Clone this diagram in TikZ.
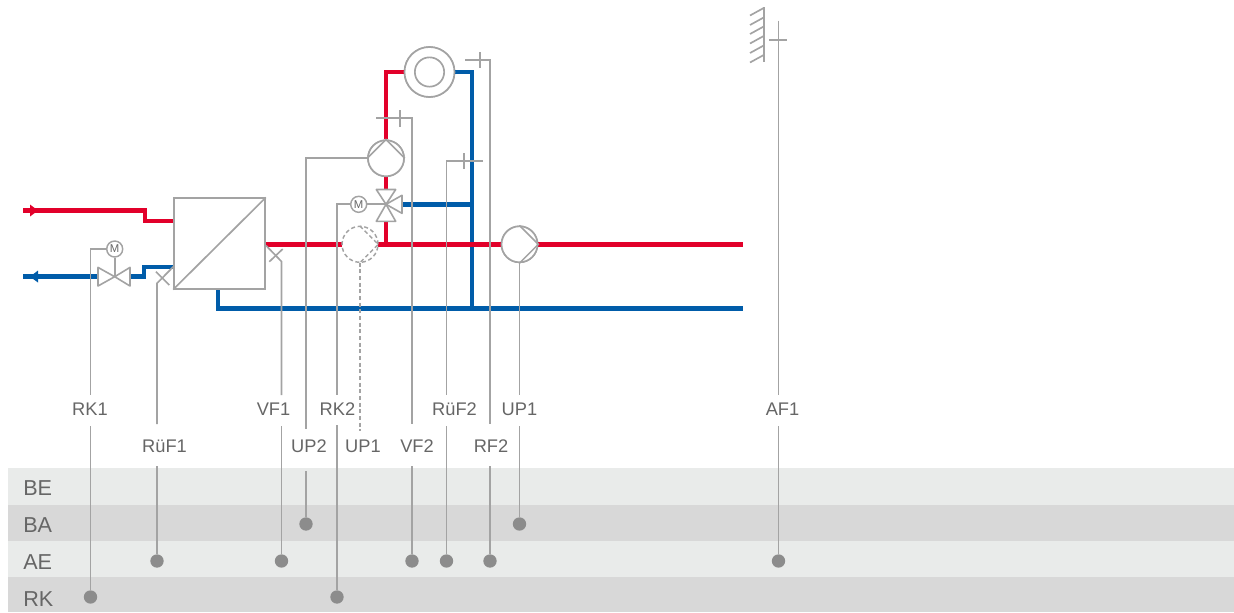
\documentclass[tikz,border=0pt]{standalone}
\usepackage{fontspec}
\usetikzlibrary{calc}
\setmainfont{Liberation Sans}
\definecolor{pipered}{HTML}{E2002A}
\definecolor{pipeblue}{HTML}{005CA9}
\definecolor{wire}{HTML}{A3A3A3}
\definecolor{dotgray}{HTML}{8C8C8C}
\definecolor{txtgray}{HTML}{666666}
\definecolor{bandlight}{HTML}{E9EBEA}
\definecolor{banddark}{HTML}{D8D8D8}
\tikzset{
  hot/.style={draw=pipered,line width=3.4pt,line join=miter},
  cold/.style={draw=pipeblue,line width=3.4pt,line join=miter},
  wireline/.style={draw=wire,line width=1.25pt},
  wirethin/.style={draw=wire,line width=1.1pt},
  wiredash/.style={draw=wire,line width=1.1pt,dash pattern=on 3pt off 2pt},
  part/.style={draw=wire,line width=1.2pt,fill=white,line join=round},
  pumpbody/.style={circle,draw=wire,line width=1.25pt,fill=white,minimum size=27pt,inner sep=0pt},
  motorbody/.style={circle,draw=wire,line width=1.1pt,fill=white,minimum size=12pt,inner sep=0pt,font=\fontsize{8.5}{9}\selectfont,text=txtgray},
  sigdot/.style={circle,fill=dotgray,minimum size=10pt,inner sep=0pt},
  tag/.style={text=txtgray,font=\fontsize{13.7}{14}\selectfont,inner sep=0pt,text height=9.8pt,text depth=0pt},
  bandtag/.style={text=txtgray,font=\fontsize{16.2}{17}\selectfont,inner sep=0pt,anchor=west,text height=11.6pt,text depth=0pt},
  hxbody/.style={draw=wire,line width=1.25pt,fill=white,minimum width=68.25pt,minimum height=67.8pt,inner sep=0pt},
}
\begin{document}
\begin{tikzpicture}[x=0.75pt,y=-0.75pt]
\useasboundingbox (0,0) rectangle (1234,612);
% bands
\fill[bandlight] (8,468) rectangle (1234,505);
\fill[banddark]  (8,505) rectangle (1234,541);
\fill[bandlight] (8,541) rectangle (1234,577);
\fill[banddark]  (8,577) rectangle (1234,612);
\node[bandtag] (bBE) at (23,488) {BE};
\node[bandtag] (bBA) at (23,525) {BA};
\node[bandtag] (bAE) at (23,561.5) {AE};
\node[bandtag] (bRK) at (23,598.5) {RK};

% anchors of the components
\node[pumpbody,minimum size=37.5pt] (coil) at (429.5,72) {};
\node[pumpbody] (pumpB) at (386,158.3) {};
\node[pumpbody] (pumpA) at (519.5,244.3) {};
\node[circle,minimum size=27pt,inner sep=0pt] (pumpC) at (360,244.3) {};
\node[hxbody] (hx) at (219.5,243.5) {};
\node[motorbody] (motB) at (358.7,204.3) {M};
\node[motorbody] (motA) at (114.7,249) {M};
\coordinate (vB) at (386,204.3);
\coordinate (vBtop) at (386,189.5);
\coordinate (vBbot) at (386,221.3);
\coordinate (vBrt) at (402,204.3);
\coordinate (vA) at (114.7,276.7);
\coordinate (vAl) at (98,276.7);
\coordinate (vAr) at (130,276.7);

% coordinates of pipes
\coordinate (rIn) at (23,210.5);
\coordinate (rK1) at (145,210.5);
\coordinate (rK2) at (145,221);
\coordinate (bOut) at (23,276.7);
\coordinate (bK1) at (144,276.7);
\coordinate (bK2) at (144,267);
\coordinate (rUp) at (386,72);
\coordinate (rJ) at (386,244.3);
\coordinate (bTop) at (472,72);
\coordinate (bBot) at (472,308.7);
\coordinate (bL) at (218,308.7);
\coordinate (bEnd) at (743,308.7);
\coordinate (rEnd) at (743,244.3);
\coordinate (bT) at (472,204.3);
\coordinate (hxB) at (218,289);
\coordinate (hxR) at (265,244.3);
\coordinate (hxL1) at (174,221);
\coordinate (hxL2) at (174,267);

% pipes
\draw[cold] (bOut) -- (vAl);
\draw[cold] (vAr) -- (bK1) -- (bK2) -- (hxL2);
\draw[cold] (coil.east) -- (bTop) -- (bBot);
\draw[cold] (vBrt) -- (bT);
\draw[cold] (hxB) -- (bL) -- (bEnd);
\draw[hot] (rIn) -- (rK1) -- (rK2) -- (hxL1);
\draw[hot] (coil.west) -- (rUp) -- (pumpB.north);
\draw[hot] (pumpB.south) -- (vBtop);
\draw[hot] (vBbot) -- (rJ);
\draw[hot] (hxR) -- (pumpC.west);
\draw[hot] (pumpC.east) -- (pumpA.west);
\draw[hot] (pumpA.east) -- (rEnd);
% flow arrows
\coordinate (aR1) at (30,204.5);
\coordinate (aR2) at (38,210.5);
\coordinate (aR3) at (30,216.5);
\fill[pipered] (aR1) -- (aR2) -- (aR3) -- cycle;
\coordinate (aB1) at (38,270.5);
\coordinate (aB2) at (30,276.7);
\coordinate (aB3) at (38,282.5);
\fill[pipeblue] (aB1) -- (aB2) -- (aB3) -- cycle;

% bodies over the pipes
\node[pumpbody,minimum size=37.5pt] at (coil) {};
\node[pumpbody,minimum size=22pt] (coilin) at (coil) {};
\node[pumpbody] at (pumpB) {};
\node[pumpbody] at (pumpA) {};
\node[hxbody] at (hx) {};
\draw[wireline] (hx.south west) -- (hx.north east);
% pump chords
\draw[wirethin] (pumpB.west) -- (pumpB.north) -- (pumpB.east);
\draw[wirethin] (pumpA.north) -- (pumpA.east) -- (pumpA.south);
% dashed pump
\node[circle,draw=wire,line width=1.1pt,dash pattern=on 3pt off 2pt,minimum size=27pt,inner sep=0pt] at (pumpC) {};
\draw[wiredash] (pumpC.north) -- (pumpC.east) -- (pumpC.south);
% valves
\draw[part] (vB) -- ($(vBtop)+(-9.7,0)$) -- ($(vBtop)+(9.7,0)$) -- cycle;
\draw[part] (vB) -- ($(vBbot)+(-9.7,0)$) -- ($(vBbot)+(9.7,0)$) -- cycle;
\draw[part] (vB) -- ($(vBrt)+(0,-9)$) -- ($(vBrt)+(0,9)$) -- cycle;
\draw[part] (vA) -- ($(vAl)+(0,-9.3)$) -- ($(vAl)+(0,9.3)$) -- cycle;
\draw[part] (vA) -- ($(vAr)+(0,-9.3)$) -- ($(vAr)+(0,9.3)$) -- cycle;

% labels
\node[tag] (lRK1) at (90,409) {RK1};
\node[tag] (lRuF1) at (164.5,445.5) {RüF1};
\node[tag] (lVF1) at (273.5,409) {VF1};
\node[tag] (lUP2) at (309,445.5) {UP2};
\node[tag] (lRK2) at (337.5,409) {RK2};
\node[tag] (lUP1b) at (363,445.5) {UP1};
\node[tag] (lVF2) at (417,445.5) {VF2};
\node[tag] (lRuF2) at (454.5,409) {RüF2};
\node[tag] (lRF2) at (491,445.5) {RF2};
\node[tag] (lUP1) at (519.5,409) {UP1};
\node[tag] (lAF1) at (782.5,409) {AF1};

% signal dots
\node[sigdot] (dRK1) at (90.5,597) {};
\node[sigdot] (dRuF1) at (157,561) {};
\node[sigdot] (dVF1) at (281.5,561) {};
\node[sigdot] (dUP2) at (306,524) {};
\node[sigdot] (dRK2) at (337,597) {};
\node[sigdot] (dVF2) at (412,561) {};
\node[sigdot] (dRuF2) at (446.5,561) {};
\node[sigdot] (dRF2) at (490,561) {};
\node[sigdot] (dUP1) at (519.5,524) {};
\node[sigdot] (dAF1) at (778.5,561) {};

% lower wires: label row to dot
\coordinate (gRK1) at (90.5,426);
\coordinate (gRuF1) at (157,466);
\coordinate (gVF1) at (281.5,426);
\coordinate (gUP2) at (306,471);
\coordinate (gRK2) at (337,425);
\coordinate (gVF2) at (412,466);
\coordinate (gRuF2) at (446.5,426);
\coordinate (gRF2) at (490,466);
\coordinate (gUP1) at (519.5,426);
\coordinate (gAF1) at (778.5,426);
\foreach \n in {RK1,RuF1,VF1,UP2,RK2,VF2,RuF2,RF2,UP1,AF1}
  \draw[wireline] (g\n) -- (d\n);

% upper wires
\coordinate (uRK1) at (90.5,395);
\coordinate (uRK1c) at (90.5,249);
\draw[wireline] (motA) -- (uRK1c) -- (uRK1);
\draw[wireline] (motA) -- (vA);
\coordinate (uRuF1) at (157,424);
\coordinate (uRuF1c) at (157,283.3);
\coordinate (xA1) at (174,266);
\coordinate (xA2) at (156,271.7);
\coordinate (xA3) at (169.3,285);
\draw[wireline] (xA1) -- (uRuF1c) -- (uRuF1);
\draw[wireline] (xA2) -- (xA3);
\coordinate (uVF1) at (281.5,395);
\coordinate (uVF1c) at (281.5,261.5);
\coordinate (xB1) at (266,245.5);
\coordinate (xB2) at (269.3,261.7);
\coordinate (xB3) at (282.7,249);
\draw[wireline] (xB1) -- (uVF1c) -- (uVF1);
\draw[wireline] (xB2) -- (xB3);
\coordinate (uUP2) at (306,429);
\coordinate (uUP2c) at (306,158.3);
\draw[wireline] (pumpB.west) -- (uUP2c) -- (uUP2);
\coordinate (uRK2) at (337,395);
\coordinate (uRK2c) at (337,204.3);
\draw[wireline] (motB) -- (uRK2c) -- (uRK2);
\draw[wireline] (motB) -- (vB);
\coordinate (uUP1b) at (360,431);
\draw[wiredash] (pumpC.south) -- (uUP1b);
\coordinate (uVF2) at (412,424);
\coordinate (uVF2c) at (412,118);
\coordinate (sVF2) at (376,118);
\coordinate (tVF2a) at (400,110);
\coordinate (tVF2b) at (400,127);
\draw[wireline] (sVF2) -- (uVF2c) -- (uVF2);
\draw[wireline] (tVF2a) -- (tVF2b);
\coordinate (uRuF2) at (446.5,395);
\coordinate (uRuF2c) at (446.5,161);
\coordinate (sRuF2) at (483,161);
\coordinate (tRuF2a) at (464.3,153);
\coordinate (tRuF2b) at (464.3,169);
\draw[wireline] (sRuF2) -- (uRuF2c) -- (uRuF2);
\draw[wireline] (tRuF2a) -- (tRuF2b);
\coordinate (uRF2) at (490,424);
\coordinate (uRF2c) at (490,59.7);
\coordinate (sRF2) at (465,59.7);
\coordinate (tRF2a) at (480,52);
\coordinate (tRF2b) at (480,68);
\draw[wireline] (sRF2) -- (uRF2c) -- (uRF2);
\draw[wireline] (tRF2a) -- (tRF2b);
\coordinate (uUP1) at (519.5,395);
\draw[wireline] (pumpA.south) -- (uUP1);
% outdoor sensor
\coordinate (uAF1) at (778.5,395);
\coordinate (sAF1) at (778.5,20.7);
\coordinate (tAF1a) at (769.3,40);
\coordinate (tAF1b) at (787.3,40);
\draw[wireline] (sAF1) -- (uAF1);
\draw[wireline] (tAF1a) -- (tAF1b);
\coordinate (wallT) at (763.7,7);
\coordinate (wallB) at (763.7,62);
\draw[wireline] (wallT) -- (wallB);
\foreach \yy in {8,17.5,26.5,36,45.5,55}
  \draw[wireline] (763.7,\yy) -- (750,\yy+7.5);
\end{tikzpicture}
\end{document}
